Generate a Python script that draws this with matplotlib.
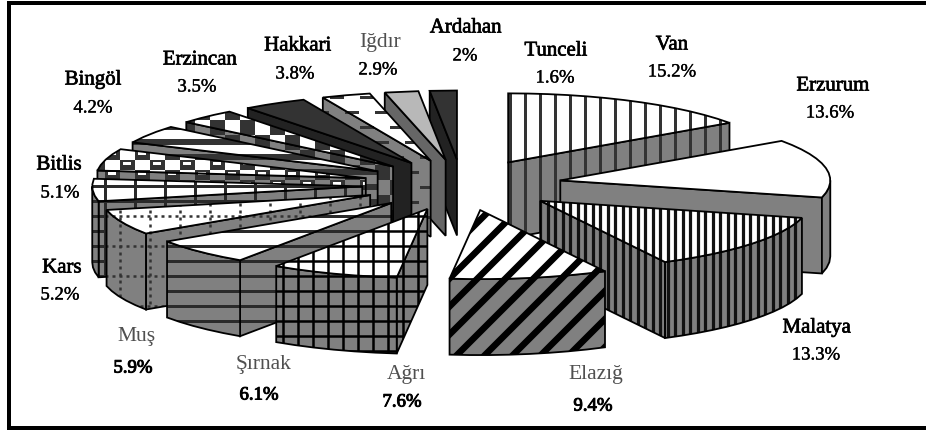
import numpy as np
import matplotlib
matplotlib.use('Agg')
import matplotlib.pyplot as plt
import matplotlib.patheffects as pe
from matplotlib.patches import Polygon, Rectangle
from matplotlib.collections import LineCollection, PatchCollection

# clockwise from north
provinces = ['Van', 'Erzurum', 'Malatya', 'Elazığ', 'Ağrı', 'Şırnak', 'Muş', 'Kars',
             'Bitlis', 'Bingöl', 'Erzincan', 'Hakkari', 'Iğdır', 'Ardahan', 'Tunceli']
shares = [15.2, 13.6, 13.3, 9.4, 7.6, 6.1, 5.9, 5.2, 5.1, 4.2, 3.5, 3.8, 2.9, 2.0, 1.6]
share_labels = ['15.2%', '13.6%', '13.3%', '9.4%', '7.6%', '6.1%', '5.9%', '5.2%',
                '5.1%', '4.2%', '3.5%', '3.8%', '2.9%', '2%', '1.6%']

# layout in image pixels
CX, CY = 462, 185
RX, RY = 270, 69
DEPTH = 76
EXPLODE = 0.37
DPI = 100

label_pos = {
    'Van': (672, 45, 672, 72), 'Erzurum': (833, 86, 830, 113), 'Malatya': (817, 328, 816, 355),
    'Elazığ': (596, 375, 593, 406), 'Ağrı': (406, 374, 402, 402), 'Şırnak': (264, 365, 259, 395),
    'Muş': (137, 337, 133, 368), 'Kars': (62, 268, 60, 295), 'Bitlis': (59, 165, 60, 193),
    'Bingöl': (93, 80, 93, 108), 'Erzincan': (200, 60, 197, 87), 'Hakkari': (298, 46, 295, 74),
    'Iğdır': (380, 42, 378, 70), 'Ardahan': (466, 28, 465, 56), 'Tunceli': (556, 51, 555, 78),
}
thin_names = ['Elazığ', 'Ağrı', 'Şırnak', 'Muş', 'Iğdır']
bold_pct = ['9.4%', '7.6%', '6.1%', '5.9%']

# fill of top, fill of wall, pattern
styles = {
    'Van': ('white', '#808080', 'vert15'),
    'Erzurum': ('white', '#808080', None),
    'Malatya': ('white', '#808080', 'vert7'),
    'Elazığ': ('white', '#808080', 'diag'),
    'Ağrı': ('white', '#808080', 'grid'),
    'Şırnak': ('white', '#808080', 'horiz'),
    'Muş': ('white', '#808080', 'dots'),
    'Kars': ('white', '#808080', 'wide_grid'),
    'Bitlis': ('white', '#808080', 'check10'),
    'Bingöl': ('white', '#808080', 'bands'),
    'Erzincan': ('white', '#808080', 'check15'),
    'Hakkari': ('#333333', '#222222', None),
    'Iğdır': ('white', '#808080', 'dashes'),
    'Ardahan': ('#b8b8b8', '#666666', None),
    'Tunceli': ('#333333', '#222222', None),
}


def px(n):
    return n * 72.0 / DPI


def add_lines(ax, segs, clip, lw, color, z, ls='solid'):
    lc = LineCollection(segs, colors=color, linewidths=px(lw), linestyles=ls, zorder=z, capstyle='butt')
    ax.add_collection(lc, autolim=False)
    lc.set_clip_path(clip)


def add_cells(ax, cells, clip, color, z):
    pc = PatchCollection([Rectangle((x, y), w, h) for x, y, w, h in cells],
                         facecolor=color, edgecolor='none', zorder=z)
    ax.add_collection(pc, autolim=False)
    pc.set_clip_path(clip)


def draw_pattern(ax, kind, clip, z):
    xs = np.arange(0, 930, 15)
    ys = np.arange(6, 440, 15)
    vert = lambda v: [[(x, 0), (x, 434)] for x in v]
    horiz = lambda v: [[(0, y), (926, y)] for y in v]
    if kind == 'vert15':
        add_lines(ax, vert(xs), clip, 3, '#333333', z)
    elif kind == 'vert7':
        add_lines(ax, vert(np.arange(0, 930, 7.5)), clip, 3.2, '#111111', z)
    elif kind == 'diag':
        offs = np.arange(0, 1400, 28)
        add_lines(ax, [[(o, 0), (o - 434, 434)] for o in offs], clip, 6.5, 'black', z)
    elif kind == 'grid':
        add_lines(ax, vert(xs - 2) + horiz(ys), clip, 2.5, 'black', z)
    elif kind == 'horiz':
        add_lines(ax, horiz(ys), clip, 3, '#2a2a2a', z)
    elif kind == 'dots':
        add_lines(ax, vert(np.arange(0, 930, 30)) + horiz(np.arange(6, 440, 30)),
                  clip, 2.5, '#333333', z, ls=(0, (1.2, 1.6)))
    elif kind == 'wide_grid':
        add_lines(ax, vert(np.arange(0, 930, 30) + 15) + horiz(ys), clip, 3, '#2a2a2a', z)
    elif kind == 'bands':
        add_lines(ax, horiz(ys + 1), clip, 6, '#333333', z)
    elif kind in ('check10', 'check15'):
        h = 10 if kind == 'check10' else 15
        rows = np.arange(0, 440, h)
        cells = [(x, y, 15, h) for i, x in enumerate(xs) for j, y in enumerate(rows)
                 if (i + j) % 2 == 0]
        add_cells(ax, cells, clip, '#333333', z)
        if kind == 'check10':
            add_cells(ax, [(x + 3, y + 2, 8, 2.5) for x, y, _, _ in cells], clip, 'white', z + 0.05)
    elif kind == 'dashes':
        cells = [(x + (15 if j % 2 else 0), y, 14, 3) for x in np.arange(0, 930, 30)
                 for j, y in enumerate(ys)]
        add_cells(ax, cells, clip, '#333333', z)


def arc(apex, t0, t1):
    n = max(2, int(abs(t1 - t0) / 4) + 1)
    t = np.radians(np.linspace(t0, t1, n))
    return np.column_stack([apex[0] + RX * np.sin(t), apex[1] - RY * np.cos(t)])


def draw_face(ax, pts, fill, kind, z):
    poly = Polygon(pts, closed=True, facecolor=fill, edgecolor='none', zorder=z)
    ax.add_patch(poly)
    if kind:
        draw_pattern(ax, kind, poly, z + 0.1)
    edge = Polygon(pts, closed=True, facecolor='none', edgecolor='black', linewidth=px(1.8),
                   joinstyle='miter', zorder=z + 0.2)
    ax.add_patch(edge)


def draw_wedge(ax, name, t0, t1, z):
    top, wall, kind = styles[name]
    mid = np.radians((t0 + t1) / 2)
    apex = (CX + EXPLODE * RX * np.sin(mid), CY - EXPLODE * RY * np.cos(mid))
    down = np.array([0, DEPTH])
    ap = np.array(apex)

    # radial wall that faces the viewer
    if t1 <= 180:
        e = arc(apex, t1, t1)[0]
        draw_face(ax, [ap, e, e + down, ap + down], wall, kind, z)
    elif t0 >= 180:
        e = arc(apex, t0, t0)[0]
        draw_face(ax, [ap, e, e + down, ap + down], wall, kind, z)
    # outer wall, front half of the rim only
    a0, a1 = max(t0, 90), min(t1, 270)
    if a1 > a0:
        rim = arc(apex, a0, a1)
        draw_face(ax, np.vstack([rim, (rim + down)[::-1]]), wall, kind, z + 1)
    # top
    draw_face(ax, np.vstack([[ap], arc(apex, t0, t1)]), top, kind, z + 2)


def draw_text(ax, x, y, s, size, color, stroke):
    t = ax.text(x, y, s, ha='center', va='center', fontsize=size, color=color,
                family='Liberation Serif', zorder=200)
    if stroke:
        t.set_path_effects([pe.withStroke(linewidth=stroke, foreground=color)])


fig = plt.figure(figsize=(9.26, 4.34), dpi=DPI)
ax = fig.add_axes([0, 0, 1, 1])
ax.set_xlim(0, 926)
ax.set_ylim(434, 0)
ax.axis('off')

vals = np.array(shares)
edges = np.concatenate([[0], np.cumsum(vals)]) / vals.sum() * 360

# paint back wedges first
order = sorted(range(len(vals)), key=lambda i: -np.cos(np.radians((edges[i] + edges[i + 1]) / 2)))
for k, i in enumerate(order):
    draw_wedge(ax, provinces[i], edges[i], edges[i + 1], 10 + k * 5)

for name, pct in zip(provinces, share_labels):
    nx, ny, sx, sy = label_pos[name]
    if name in thin_names:
        draw_text(ax, nx, ny, name, 15.5, '#505050', 0)
    else:
        draw_text(ax, nx, ny, name, 15, 'black', 0.5)
    draw_text(ax, sx, sy, pct, 13.5, 'black', 0.7 if pct in bold_pct else 0.25)

# frame, right side is cut off in the reference
ax.plot([940, 9, 9, 940], [3, 3, 428, 428], color='black', lw=px(4), zorder=300,
        solid_joinstyle='miter')

fig.savefig('out.png', dpi=DPI)
